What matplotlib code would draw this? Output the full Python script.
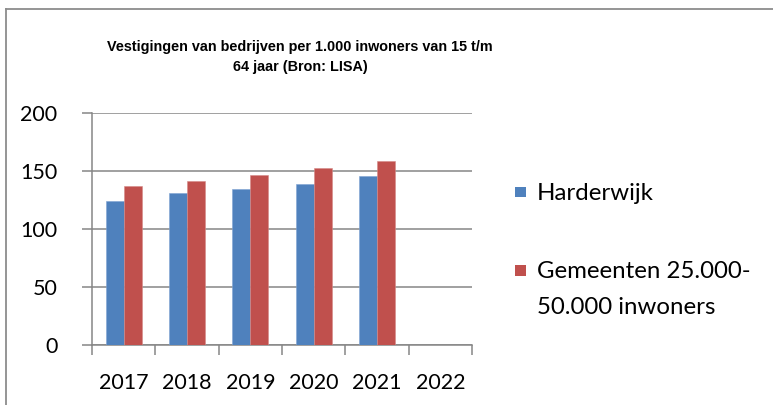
import matplotlib
matplotlib.use("Agg")
import matplotlib.pyplot as plt
from matplotlib.lines import Line2D
from matplotlib.patches import Rectangle
import numpy as np

years = ["2017", "2018", "2019", "2020", "2021", "2022"]
harderwijk = [124, 131, 134.5, 138.5, 145.5, None]
gemeenten = [137, 141.5, 146.5, 152.5, 158.5, None]
series_names = ["Harderwijk", "Gemeenten 25.000-\n50.000 inwoners"]
title = "Vestigingen van bedrijven per 1.000 inwoners van 15 t/m\n64 jaar (Bron: LISA)"
yticks = [0, 50, 100, 150, 200]

BLUE = "#4F81BD"
RED = "#C0504D"
GRID = "#868686"
TXT_FONT = ["Lato", "DejaVu Sans"]

fig = plt.figure(figsize=(7.73, 4.05), dpi=100)
ax = fig.add_axes([92 / 773, 60 / 405, 380 / 773, 232.3 / 405])

x = np.arange(len(years))
w = 0.284
hv = [np.nan if v is None else v for v in harderwijk]
gv = [np.nan if v is None else v for v in gemeenten]
ax.bar(x - w / 2, hv, width=w, color=BLUE, edgecolor="#7FA3D3", linewidth=0.4, zorder=3)
ax.bar(x + w / 2, gv, width=w, color=RED, edgecolor="#D58A88", linewidth=0.4, zorder=3)

ax.set_xlim(-0.5, len(years) - 0.5)
ax.set_ylim(0, 200)
ax.set_yticks(yticks)
ax.set_yticklabels([str(t) for t in yticks], fontsize=15.5, family=TXT_FONT)
ax.yaxis.grid(True, color=GRID, linewidth=1.1, zorder=0)
ax.set_axisbelow(True)

ax.set_xticks(np.arange(len(years) + 1) - 0.5)
ax.set_xticklabels([])
ax.set_xticks(x, minor=True)
ax.set_xticklabels(years, minor=True, fontsize=15.5, family=TXT_FONT)
ax.tick_params(axis="x", which="minor", length=0, pad=20)
ax.tick_params(axis="x", which="major", length=7, width=1.1, color=GRID, direction="out")
ax.tick_params(axis="y", length=7, width=1.1, color=GRID, pad=18)

for s in ["top", "right"]:
    ax.spines[s].set_visible(False)
for s in ["left", "bottom"]:
    ax.spines[s].set_color(GRID)
    ax.spines[s].set_linewidth(1.1)

fig.text(300 / 773, 1 - 57 / 405, title, ha="center", va="center",
         fontsize=10.4, fontweight="bold", linespacing=1.6,
         family=["Liberation Sans Narrow", "Liberation Sans", "DejaVu Sans"])

# legend (drawn manually for exact placement)
colors = [BLUE, RED]
legend_y = [192, 270]   # pixel rows of first text line centres
for name, col, yp in zip(series_names, colors, legend_y):
    fig.add_artist(Rectangle((515 / 773, 1 - (yp + 5.5) / 405), 11 / 773, 11 / 405,
                             transform=fig.transFigure, facecolor=col, edgecolor="none"))
    for i, ln in enumerate(name.split("\n")):
        fig.text(537 / 773, 1 - (yp + 35 * i) / 405, ln, ha="left", va="center_baseline",
                 fontsize=17.3, family=TXT_FONT)

fig.add_artist(Line2D([6 / 773, 1.0], [1 - 9 / 405, 1 - 9 / 405],
                      transform=fig.transFigure, color="#8C8C8C", linewidth=1.3))
fig.add_artist(Line2D([6 / 773, 6 / 773], [0.0, 1 - 9 / 405],
                      transform=fig.transFigure, color="#8C8C8C", linewidth=1.3))

fig.savefig("out.png", dpi=100)
